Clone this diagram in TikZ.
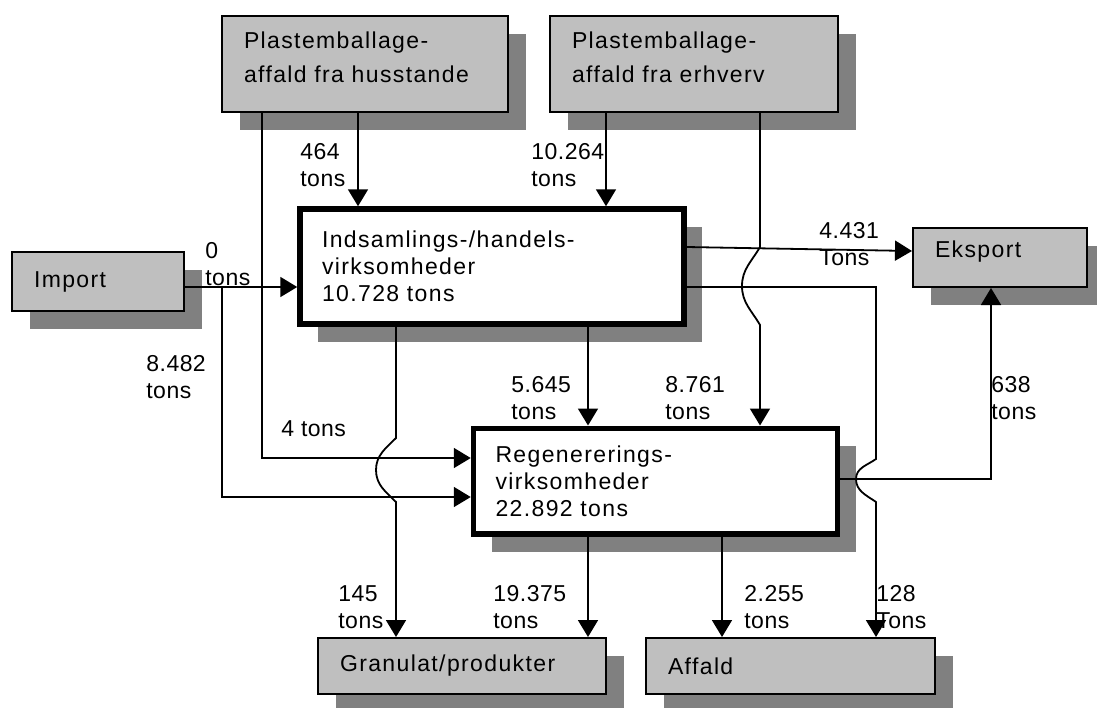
\documentclass[tikz,border=0pt]{standalone}
\usepackage{fontspec}
\setmainfont{Liberation Sans}[LetterSpace=6]
\newfontfamily\amountfont{Liberation Sans}[LetterSpace=2]
\usetikzlibrary{arrows.meta,shadows}

\tikzset{
  box/.style={draw, line width=1pt, fill=gray!50, align=left,
    inner xsep=11pt, inner ysep=0pt,
    drop shadow={fill=gray, opacity=1, shadow xshift=9pt, shadow yshift=-9pt}},
  mainbox/.style={box, fill=white, line width=2.75pt},
  topbox/.style={box, font=\fontsize{11.5pt}{16.8pt}\selectfont, text depth=23.4pt},
  flow/.style={line width=0.9pt, -{Triangle[length=8.5pt,width=10pt]}},
  amount/.style={anchor=north west, inner sep=0pt, align=left,
    font=\fontsize{11.5pt}{13.5pt}\amountfont},
}

\begin{document}
\begin{tikzpicture}[x=0.5pt, y=-0.5pt, font=\fontsize{11.5pt}{13.5pt}\selectfont]
  \path[use as bounding box, fill=white] (0,0) rectangle (1097,707);
  \clip (0,0) rectangle (1097,707);

  % sources
  \node[topbox, minimum width=143pt, minimum height=48pt, text width=121pt] (hus) at (365,64)
    {Plastemballage-\\affald fra husstande};
  \node[topbox, minimum width=144pt, minimum height=48pt, text width=122pt] (erh) at (694,64)
    {Plastemballage-\\affald fra erhverv};
  \node[box, minimum width=86pt, minimum height=29.5pt, text width=64pt] (imp) at (98,281.5) {Import};

  % plants
  \node[mainbox, minimum width=192pt, minimum height=57.5pt, text width=170pt] (ind) at (492,266.5)
    {Indsamlings-/handels-\\virksomheder\\10.728 tons};
  \node[mainbox, minimum width=182pt, minimum height=52.75pt, text width=160pt] (reg) at (655.5,481)
    {Regenererings-\\virksomheder\\22.892 tons};

  % destinations
  \node[box, minimum width=87pt, minimum height=29.5pt, text width=65pt, text depth=8.5pt] (eks) at (1000,257.5) {Eksport};
  \node[box, minimum width=144pt, minimum height=28pt, text width=122pt] (gra) at (462,666) {Granulat/produkter};
  \node[box, minimum width=144.5pt, minimum height=28pt, text width=122.5pt] (aff) at (790.5,666) {Affald};

  % flows from households and companies
  \draw[flow] (hus.south -| 358,0) -- (ind.north -| 358,0);
  \draw[flow] (hus.south -| 262,0) -- (262,458) -- (reg.west |- 0,458);
  \draw[flow] (erh.south -| 606,0) -- (ind.north -| 606,0);
  \draw[flow] (erh.south -| 760,0) -- (760,247) to[out=-120,in=90] (742,286)
    to[out=-90,in=120] (760,325) -- (reg.north -| 760,0);

  % import
  \draw[flow] (imp.east |- 0,287) -- (ind.west |- 0,287);
  \draw[flow] (imp.east |- 0,287) -- (222,287) -- (222,497) -- (reg.west |- 0,497);

  % out of collection
  \draw[flow] (ind.south -| 396,0) -- (396,438) to[out=-135,in=90] (376,470)
    to[out=-90,in=135] (396,502) -- (gra.north -| 396,0);
  \draw[flow] (ind.south -| 588,0) -- (reg.north -| 588,0);
  \draw[flow] (ind.east |- 0,247) -- (eks.west |- 0,251);
  \draw[flow] (ind.east |- 0,287) -- (876,287) -- (876,459) to[out=-145,in=90] (856,479)
    to[out=-90,in=145] (876,502) -- (aff.north -| 876,0);

  % out of regeneration
  \draw[flow] (reg.east |- 0,479) -- (991,479) -- (eks.south -| 991,0);
  \draw[flow] (reg.south -| 588,0) -- (gra.north -| 588,0);
  \draw[flow] (reg.south -| 722,0) -- (aff.north -| 722,0);

  % amounts
  \node[amount] (t464)   at (300,143) {464\\tons};
  \node[amount] (t10264) at (531,143) {10.264\\tons};
  \node[amount] (t0)     at (205,242) {0\\tons};
  \node[amount] (t4431)  at (819,222) {4.431\\Tons};
  \node[amount] (t8482)  at (146,355) {8.482\\tons};
  \node[amount] (t4)     at (281,420) {4 tons};
  \node[amount] (t5645)  at (511,376) {5.645\\tons};
  \node[amount] (t8761)  at (665,376) {8.761\\tons};
  \node[amount] (t638)   at (991,376) {638\\tons};
  \node[amount] (t145)   at (338,585) {145\\tons};
  \node[amount] (t19375) at (493,585) {19.375\\tons};
  \node[amount] (t2255)  at (744,585) {2.255\\tons};
  \node[amount] (t128)   at (876,585) {128\\Tons};
\end{tikzpicture}
\end{document}
